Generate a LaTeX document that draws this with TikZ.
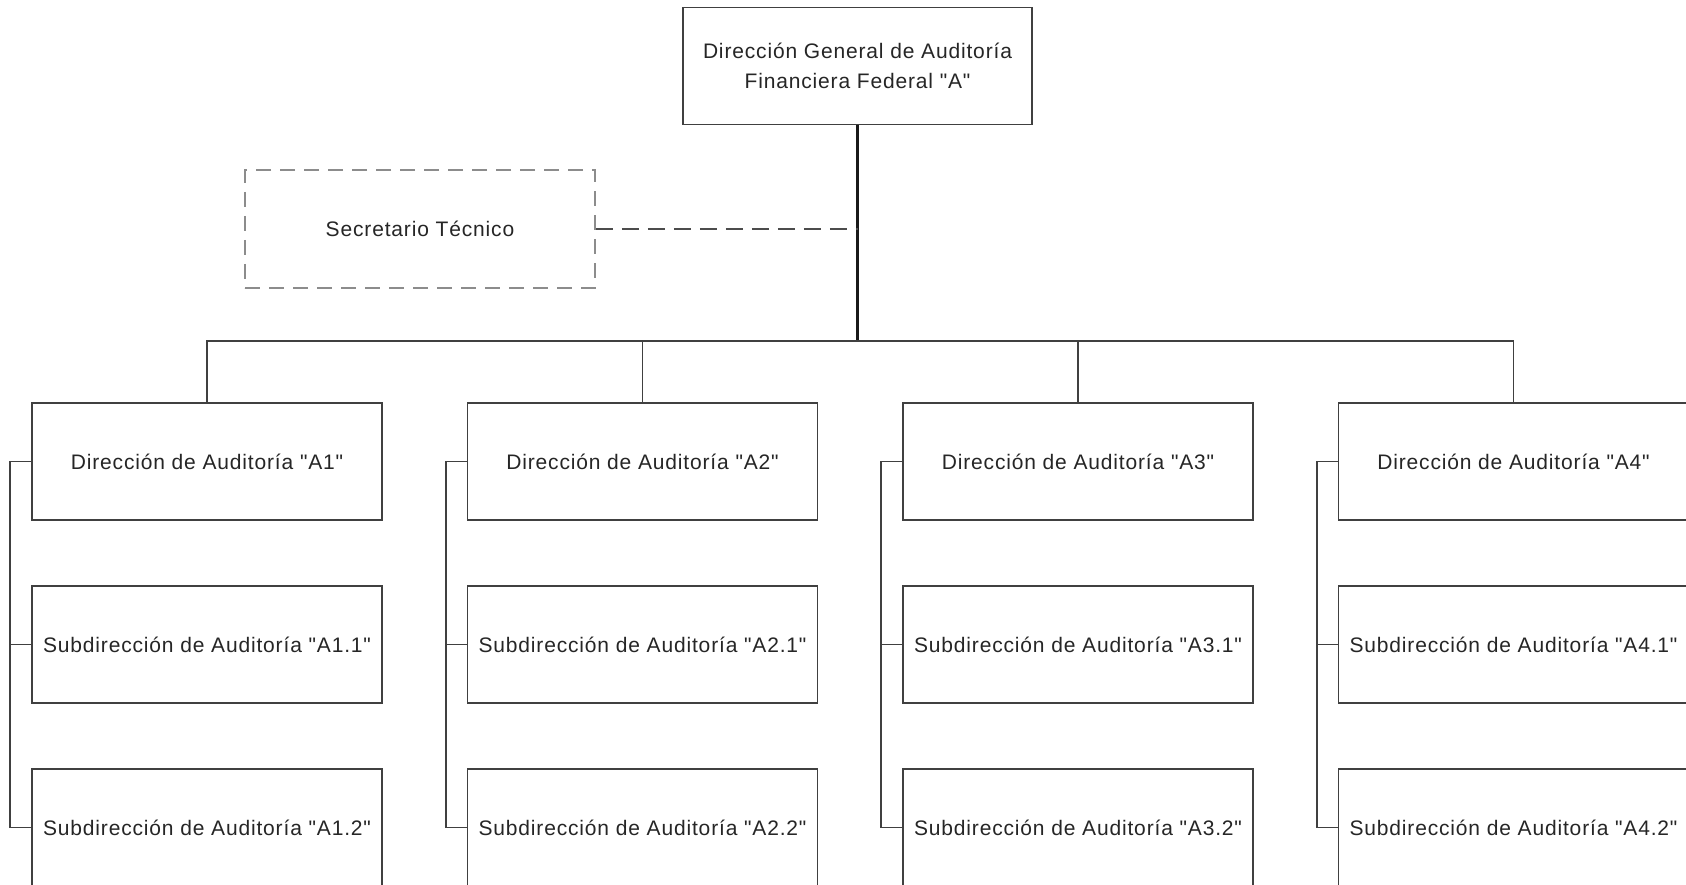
\documentclass[tikz,border=0pt]{standalone}
\usepackage{fontspec}
% TeX quote ligatures off so that " stays a straight quote
\setmainfont{Liberation Sans}[Ligatures=TeXOff]
\begin{document}
\begin{tikzpicture}[x=1pt,y=-1pt,
  font=\fontsize{21}{30}\selectfont\addfontfeature{LetterSpace=4},
  unit/.style={draw=black!75, line width=1.6pt, text=black!85, inner sep=0pt,
    minimum width=350pt, minimum height=117pt, align=center},
  staff/.style={unit, draw=black!45, dash pattern=on 15pt off 9pt},
  link/.style={draw=black!75, line width=1.6pt},
  trunk/.style={draw=black!90, line width=2.6pt},
  staffline/.style={draw=black!70, line width=2.6pt, dash pattern=on 17pt off 9pt}]
\clip (0,0) rectangle (1686,885);
\fill[white] (0,0) rectangle (1686,885);

% head of the unit
\node[unit, minimum width=349pt] (top) at (857.5,66)
  {Dirección General de Auditoría\\Financiera Federal "A"};

% staff position
\node[staff, minimum height=118pt] (sec) at (420,229) {Secretario Técnico};

% directorates and their subdirectorates
\foreach \i/\x in {1/207, 2/642.5, 3/1078, 4/1513.5} {
  \node[unit] (D\i)  at (\x,461.5) {Dirección de Auditoría "A\i"};
  \node[unit] (S\i1) at (\x,644.5) {Subdirección de Auditoría "A\i.1"};
  \node[unit] (S\i2) at (\x,827.5) {Subdirección de Auditoría "A\i.2"};
}

% trunk and bus
\coordinate (bus) at (857.5,341);
\draw[trunk] (top.south) -- (bus);
\draw[staffline] (sec.east) -- (sec.east -| top.south);
\foreach \i in {1,...,4} {
  \draw[link] (bus) -| (D\i.north);
  % side bracket linking each directorate with its subdirectorates
  \draw[link] (D\i.west) -- ++(-21,0) |- (S\i2.west);
  \draw[link] (S\i1.west) -- ++(-21,0);
}
\end{tikzpicture}
\end{document}
